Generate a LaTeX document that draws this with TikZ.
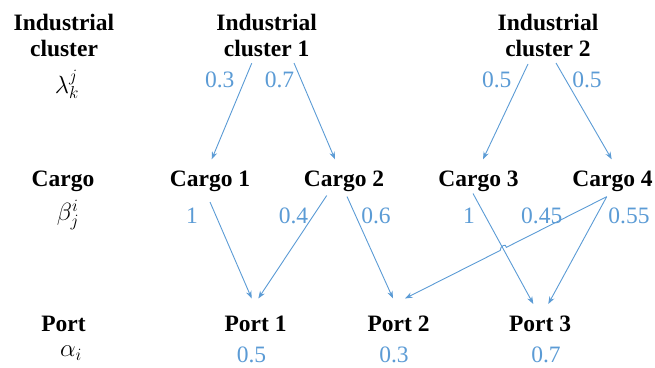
\documentclass[tikz,border=0pt]{standalone}
\usepackage{fontspec}
\setmainfont{Liberation Serif}
\usetikzlibrary{arrows.meta,calc,intersections}

\definecolor{flowblue}{HTML}{5B9BD5}

\newcommand{\idx}[1]{{\scriptscriptstyle #1}}

\tikzset{
  title/.style={font=\fontsize{23.5}{26.5}\selectfont\bfseries, text=black,
                inner sep=0pt, align=center, anchor=base},
  share/.style={font=\fontsize{23.5}{26}\selectfont, text=flowblue,
                inner sep=0pt, anchor=base},
  sym/.style={font=\fontsize{34}{36}\selectfont, inner sep=0pt},
  flow/.style={draw=flowblue, line width=0.9pt,
               -{Stealth[length=7.5pt,width=5.5pt]}},
}

\begin{document}
\begin{tikzpicture}[x=1pt,y=-1pt]
  \useasboundingbox (0,0) rectangle (655,367);

  % row headings (two-line nodes sit on the baseline of their last line)
  \node[title] (hcl) at (64,56.5)  {Industrial\\cluster};
  \node[sym]   (hla) at (67,84)    {$\lambda_\idx{k}^\idx{j}$};
  \node[title] (hcg) at (63,186)   {Cargo};
  \node[sym]   (hbe) at (68,215)   {$\beta_\idx{j}^\idx{i}$};
  \node[title] (hpt) at (63.5,331) {Port};
  \node[sym]   (hal) at (71,353)   {$\alpha_\idx{i}$};

  % industrial clusters
  \node[title] (ic1) at (266.7,56.5) {Industrial\\cluster 1};
  \node[title] (ic2) at (548,56.5)   {Industrial\\cluster 2};

  % cargo types
  \node[title] (c1) at (210,186)   {Cargo 1};
  \node[title] (c2) at (344,186)   {Cargo 2};
  \node[title] (c3) at (478.5,186) {Cargo 3};
  \node[title] (c4) at (612.5,186) {Cargo 4};

  % ports
  \node[title] (p1) at (255.5,331) {Port 1};
  \node[title] (p2) at (398.5,331) {Port 2};
  \node[title] (p3) at (540,331)   {Port 3};

  % shares: cluster -> cargo
  \node[share] (w13) at (219.7,87) {0.3};
  \node[share] (w17) at (279.5,87) {0.7};
  \node[share] (w25) at (496.7,87) {0.5};
  \node[share] (w26) at (587,87)   {0.5};

  % shares: cargo -> port
  \node[share] (v11) at (192,223)   {1};
  \node[share] (v24) at (293.5,223) {0.4};
  \node[share] (v26) at (376,223)   {0.6};
  \node[share] (v31) at (469,223)   {1};
  \node[share] (v45) at (541.7,223) {0.45};
  \node[share] (v55) at (629,223)   {0.55};

  % port values
  \node[share] (a1) at (251.5,362) {0.5};
  \node[share] (a2) at (394,362)   {0.3};
  \node[share] (a3) at (546,362)   {0.7};

  % connector end points
  \coordinate (ic1-l) at (251.7,63.3);
  \coordinate (ic1-r) at (294,63);
  \coordinate (ic2-l) at (528,64);
  \coordinate (ic2-r) at (556,63);
  \coordinate (c1-in)  at (211.7,159.3);
  \coordinate (c2-in)  at (335,159.3);
  \coordinate (c3-in)  at (483,159.3);
  \coordinate (c4-in)  at (611.7,159.3);

  \coordinate (c1-out)  at (210,202);
  \coordinate (c2-outl) at (326.7,195.5);
  \coordinate (c2-outr) at (347,196.5);
  \coordinate (c3-out)  at (473,193.5);
  \coordinate (c4-out)  at (606.7,196.7);

  \coordinate (p1-inl) at (251.7,298.5);
  \coordinate (p1-inr) at (258.3,298.5);
  \coordinate (p2-inl) at (393,298.5);
  \coordinate (p2-inr) at (405,298.5);
  \coordinate (p3-inl) at (533.3,304);
  \coordinate (p3-inr) at (548.3,304);

  % cluster -> cargo
  \draw[flow] (ic1-l) -- (c1-in);
  \draw[flow] (ic1-r) -- (c2-in);
  \draw[flow] (ic2-l) -- (c3-in);
  \draw[flow] (ic2-r) -- (c4-in);

  % cargo -> port
  \draw[flow] (c1-out)  -- (p1-inl);
  \draw[flow] (c2-outl) -- (p1-inr);
  \draw[flow] (c2-outr) -- (p2-inl);
  \draw[flow, name path=c3p3] (c3-out) -- (p3-inl);
  \draw[flow] (c4-out)  -- (p3-inr);

  % Cargo 4 -> Port 2 hops over the Cargo 3 -> Port 3 line
  \path[name path=c4p2] (c4-out) -- (p2-inr);
  \path[name intersections={of=c3p3 and c4p2, by=hop}];
  \coordinate (hop-a) at ($(hop)!3.5pt!(c4-out)$);
  \coordinate (hop-b) at ($(hop)!3.5pt!(p2-inr)$);
  \draw[flow] (c4-out) -- (hop-a)
    .. controls ($(hop-a)+(0,-4.5)$) and ($(hop-b)+(0,-4.5)$) .. (hop-b)
    -- (p2-inr);
\end{tikzpicture}
\end{document}
